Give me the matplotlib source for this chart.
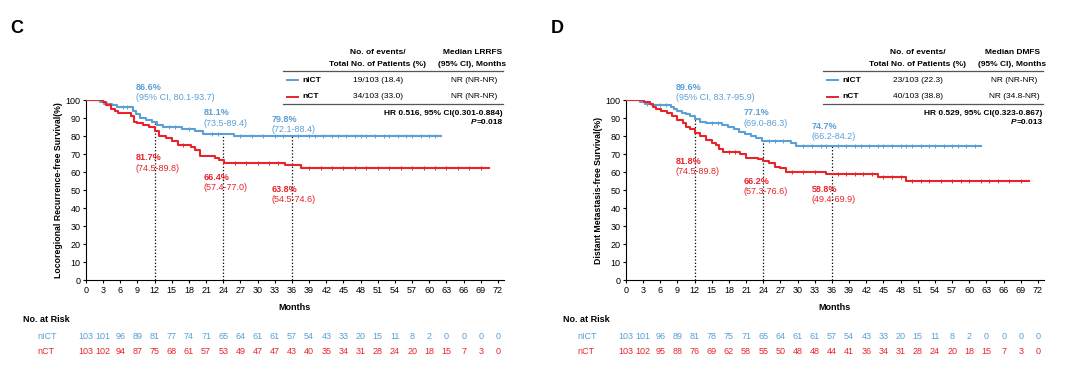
import numpy as np
import matplotlib
matplotlib.use("Agg")
import matplotlib.pyplot as plt
from matplotlib.transforms import blended_transform_factory

plt.rcParams['font.family'] = ['Liberation Sans', 'DejaVu Sans']

BLUE = '#5b9fd6'
RED = '#e8232a'

risk_times = list(range(0, 73, 3))

# ---- panel C: locoregional recurrence-free survival ----
c_nict_t = [0, 2.5, 3.2, 4.5, 5.5, 8.3, 8.8, 9.5, 10.5, 11.5, 12.5, 13.5, 16.8, 19.0, 20.5, 25.8, 62]
c_nict_s = [100, 99, 98, 97, 96, 94, 92, 90, 89, 88, 86, 85, 84, 83, 81.1, 79.8, 79.8]
c_nct_t = [0, 3.0, 3.5, 4.3, 5.0, 5.6, 7.8, 8.4, 9.0, 10.0, 11.0, 12.0, 12.8, 14.0, 15.0, 16.0, 18.3, 19.0, 20.0, 22.5, 23.2, 24.2, 34.8, 36.0, 37.5, 70.5]
c_nct_s = [100, 99, 97, 95, 94, 93, 91, 88, 87, 86, 85, 83, 80, 79, 77, 75, 74, 72, 69, 68, 66.4, 65, 64, 63.8, 62, 62]
c_nict_cens = [3.6, 6.5, 7.2, 14.5, 15.5, 18, 22, 23, 27, 29, 31, 33, 34.5, 37, 39, 40, 41.5, 43, 44, 45.5, 47, 48, 49, 50.5, 52, 53, 54.5, 56, 57, 58.5, 60, 61]
c_nct_cens = [17, 26, 28, 30, 32, 33.5, 39, 41, 43, 45, 47, 49, 51, 53, 55, 57, 59, 61, 63, 65, 67, 69]
c_nict_risk = [103, 101, 96, 89, 81, 77, 74, 71, 65, 64, 61, 61, 57, 54, 43, 33, 20, 15, 11, 8, 2, 0, 0, 0, 0]
c_nct_risk = [103, 102, 94, 87, 75, 68, 61, 57, 53, 49, 47, 47, 43, 40, 35, 34, 31, 28, 24, 20, 18, 15, 7, 3, 0]
c_blue_notes = [("86.6%", "(95% CI, 80.1-93.7)", 107, 101.5),
                ("81.1%", "(73.5-89.4)", 92.8, 87.2),
                ("79.8%", "(72.1-88.4)", 89.0, 83.5)]
c_red_notes = [("81.7%", "(74.5-89.8)", 67.8, 62.0),
               ("66.4%", "(57.4-77.0)", 57.0, 51.5),
               ("63.8%", "(54.5-74.6)", 50.5, 45.0)]
c_table = [("nICT", "19/103 (18.4)", "NR (NR-NR)"), ("nCT", "34/103 (33.0)", "NR (NR-NR)")]
c_hr = "HR 0.516, 95% CI(0.301-0.884)"
c_p = "=0.018"

# ---- panel D: distant metastasis-free survival ----
d_nict_t = [0, 2.5, 3.3, 4.5, 7.8, 8.4, 9.0, 9.8, 10.5, 11.2, 12.0, 13.0, 14.0, 16.8, 17.8, 18.8, 19.8, 20.8, 21.8, 22.8, 23.8, 28.8, 29.8, 62]
d_nict_s = [100, 99, 98, 97, 96, 95, 94, 93, 92, 91, 89.6, 88, 87, 86, 85, 84, 82, 81, 80, 79, 77.1, 76, 74.7, 74.7]
d_nct_t = [0, 3.2, 4.2, 4.7, 5.2, 6.2, 7.2, 8.0, 9.0, 10.0, 10.5, 11.2, 12.0, 13.0, 14.0, 15.0, 15.8, 16.3, 17.0, 20.0, 21.0, 23.0, 24.0, 25.0, 26.0, 27.0, 28.0, 35.0, 36.0, 44.0, 49.0, 70.5]
d_nct_s = [100, 99, 98, 96, 95, 94, 93, 91, 89, 87, 85, 84, 81.8, 80, 78, 76, 75, 73, 71, 70, 68, 67, 66.2, 65, 63, 62, 60, 59, 58.8, 57, 55.2, 55.2]
d_nict_cens = [3.6, 6.0, 7.0, 15.0, 16.0, 25, 26, 27.5, 31, 32.5, 34, 35, 37, 38.5, 40, 41, 42.5, 44, 45, 46.5, 48, 49, 50, 51.5, 53, 54, 55.5, 57, 58, 59.5, 61]
d_nct_cens = [18, 19, 29, 31, 33, 37, 38.5, 40, 41.5, 43, 45, 46.5, 48, 50, 51.5, 53, 55, 57, 58.5, 60, 62, 63.5, 65, 67, 69]
d_nict_risk = [103, 101, 96, 89, 81, 78, 75, 71, 65, 64, 61, 61, 57, 54, 43, 33, 20, 15, 11, 8, 2, 0, 0, 0, 0]
d_nct_risk = [103, 102, 95, 88, 76, 69, 62, 58, 55, 50, 48, 48, 44, 41, 36, 34, 31, 28, 24, 20, 18, 15, 7, 3, 0]
d_blue_notes = [("89.6%", "(95% CI, 83.7-95.9)", 107, 101.5),
                ("77.1%", "(69.0-86.3)", 92.8, 87.2),
                ("74.7%", "(66.2-84.2)", 85.5, 79.8)]
d_red_notes = [("81.8%", "(74.5-89.8)", 66.0, 60.3),
               ("66.2%", "(57.3-76.6)", 55.0, 49.3),
               ("58.8%", "(49.4-69.9)", 50.5, 45.0)]
d_table = [("nICT", "23/103 (22.3)", "NR (NR-NR)"), ("nCT", "40/103 (38.8)", "NR (34.8-NR)")]
d_hr = "HR 0.529, 95% CI(0.323-0.867)"
d_p = "=0.013"

landmarks = [12, 24, 36]
note_x = [8.7, 20.6, 32.5]


def step_value(t, times, surv):
    i = np.searchsorted(times, t, side='right') - 1
    return surv[max(i, 0)]


def draw_panel(fig, left, letter, ylabel, median_name, nict, nct, cens, risks,
               blue_notes, red_notes, table, hr, pval):
    ax = fig.add_axes([left, 0.2746, 0.3868, 0.4663])
    fs = 6.5
    for (t, s), c, col in zip([nict, nct], cens, [BLUE, RED]):
        ax.step(t, s, where='post', color=col, lw=1.5, zorder=3)
        cy = [step_value(x, t, s) for x in c]
        ax.plot(c, cy, ls='none', marker='|', ms=3, mew=0.7, color=col, zorder=3)

    # landmark dotted lines
    for lm in landmarks:
        top = step_value(lm, *nict)
        ax.plot([lm, lm], [0, top], color='black', ls=':', lw=0.9, zorder=2)

    for (pct, ci, y1, y2), x in zip(blue_notes, note_x):
        ax.text(x, y1, pct, color=BLUE, fontsize=fs, fontweight='bold', va='center', clip_on=False)
        ax.text(x, y2, ci, color=BLUE, fontsize=fs, va='center', clip_on=False)
    for (pct, ci, y1, y2), x in zip(red_notes, note_x):
        ax.text(x, y1, pct, color=RED, fontsize=fs, fontweight='bold', va='center', clip_on=False)
        ax.text(x, y2, ci, color=RED, fontsize=fs, va='center', clip_on=False)

    ax.set_xlim(0, 73)
    ax.set_ylim(0, 100)
    ax.set_xticks(risk_times)
    ax.set_yticks(range(0, 101, 10))
    ax.tick_params(labelsize=fs, length=2.5, width=0.8, pad=1.5)
    for sp in ['top', 'right']:
        ax.spines[sp].set_visible(False)
    for sp in ['left', 'bottom']:
        ax.spines[sp].set_linewidth(0.8)
    ax.set_xlabel("Months", fontsize=fs, fontweight='bold', labelpad=6)
    ax.set_ylabel(ylabel, fontsize=6.3, fontweight='bold', labelpad=2)

    # summary table
    ax.plot([34.4, 72.9], [116.1, 116.1], color='#555555', lw=0.9, clip_on=False)
    ax.plot([34.4, 72.9], [97.8, 97.8], color='#555555', lw=0.9, clip_on=False)
    ax.text(51, 126.5, "No. of events/", fontsize=6, fontweight='bold', ha='center', va='center', clip_on=False)
    ax.text(51, 120, "Total No. of Patients (%)", fontsize=6, fontweight='bold', ha='center', va='center', clip_on=False)
    ax.text(67.5, 126.5, "Median " + median_name, fontsize=6, fontweight='bold', ha='center', va='center', clip_on=False)
    ax.text(67.5, 120, "(95% CI), Months", fontsize=6, fontweight='bold', ha='center', va='center', clip_on=False)
    for (name, ev, med), y, col in zip(table, [111.1, 101.9], [BLUE, RED]):
        ax.plot([35.2, 37.1], [y, y], color=col, lw=1.4, clip_on=False)
        ax.text(37.8, y, name, fontsize=6, fontweight='bold', va='center', clip_on=False)
        ax.text(51, y, ev, fontsize=6, ha='center', va='center', clip_on=False)
        ax.text(67.8, y, med, fontsize=6, ha='center', va='center', clip_on=False)
    ax.text(72.8, 92.3, hr, fontsize=6, fontweight='bold', ha='right', va='center', clip_on=False)
    pt = ax.text(72.8, 87.3, pval, fontsize=6, fontweight='bold', ha='right', va='center', clip_on=False)
    ax.annotate("P", xy=(0, 0.5), xycoords=pt, fontsize=6, fontweight='bold', fontstyle='italic',
                ha='right', va='center', annotation_clip=False)

    # number at risk
    tr = blended_transform_factory(ax.transData, fig.transFigure)
    for r, y, col in zip(risks, [0.1295, 0.0881], [BLUE, RED]):
        for x, v in zip(risk_times, r):
            ax.text(x, y, str(v), transform=tr, fontsize=fs, color=col, ha='center', va='center', clip_on=False)
    fig.text(left - 0.058, 0.171, "No. at Risk", fontsize=fs, fontweight='bold', va='center')
    fig.text(left - 0.045, 0.1295, "nICT", fontsize=fs, color=BLUE, va='center')
    fig.text(left - 0.045, 0.0881, "nCT", fontsize=fs, color=RED, va='center')
    fig.text(left - 0.070, 0.927, letter, fontsize=13, fontweight='bold', va='center')
    return ax


fig = plt.figure(figsize=(10.8, 3.86), dpi=100)
draw_panel(fig, 0.0796, "C", "Locoregional Recurrence-free Survival(%)", "LRRFS",
           (c_nict_t, c_nict_s), (c_nct_t, c_nct_s), [c_nict_cens, c_nct_cens],
           [c_nict_risk, c_nct_risk], c_blue_notes, c_red_notes, c_table, c_hr, c_p)
draw_panel(fig, 0.5796, "D", "Distant Metastasis-free Survival(%)", "DMFS",
           (d_nict_t, d_nict_s), (d_nct_t, d_nct_s), [d_nict_cens, d_nct_cens],
           [d_nict_risk, d_nct_risk], d_blue_notes, d_red_notes, d_table, d_hr, d_p)
fig.savefig("out.png", dpi=100)
